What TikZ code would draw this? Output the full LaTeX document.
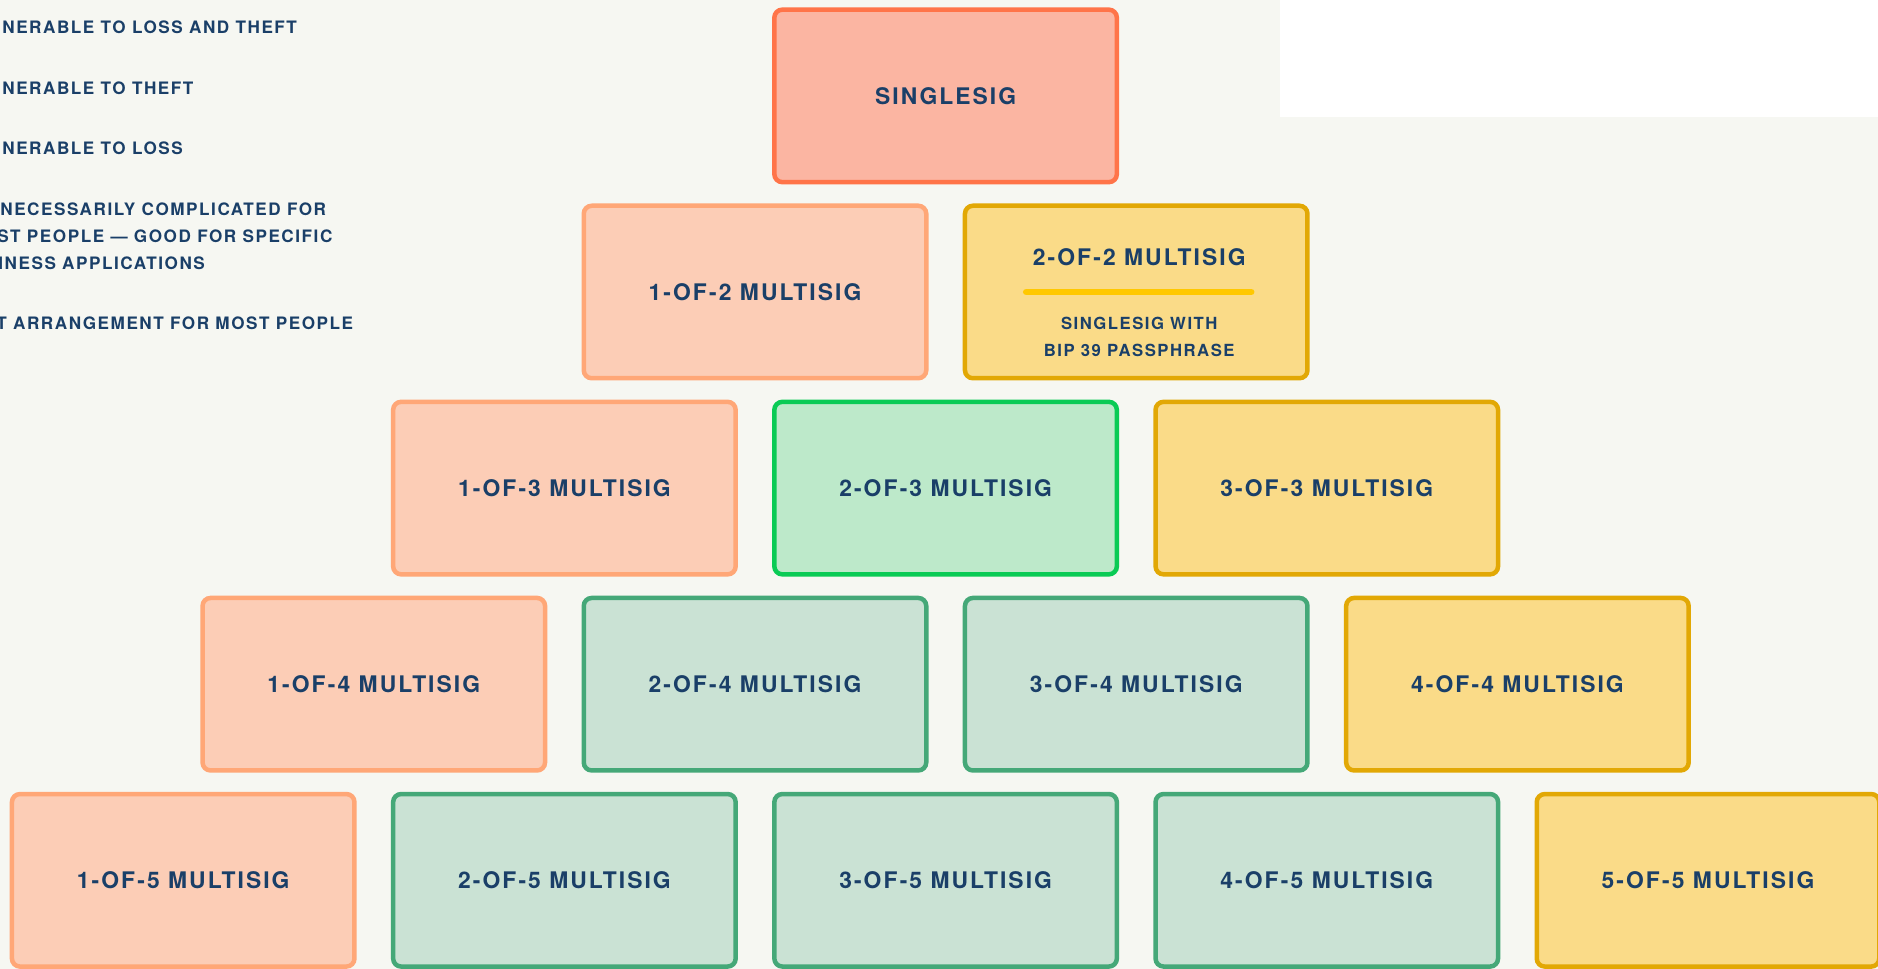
\documentclass[tikz,border=0pt]{standalone}
\usepackage{fontspec}
\usepackage{tikz}

\newfontfamily\sigfont{TeX Gyre Heros}[LetterSpace=9]

\definecolor{paper}{HTML}{F6F7F2}
\definecolor{ink}{HTML}{1A3F68}
\definecolor{redfill}{HTML}{FBB5A2}
\definecolor{redline}{HTML}{FF7449}
\definecolor{peachfill}{HTML}{FCCDB6}
\definecolor{peachline}{HTML}{FFA777}
\definecolor{sandfill}{HTML}{FADB88}
\definecolor{sandline}{HTML}{E2A805}
\definecolor{mintfill}{HTML}{BDE9CA}
\definecolor{mintline}{HTML}{0ACB55}
\definecolor{sagefill}{HTML}{CAE2D4}
\definecolor{sageline}{HTML}{45A878}
\definecolor{passbar}{HTML}{FFC800}

\begin{document}
\begin{tikzpicture}[
	sigbox/.style={rectangle, rounded corners=0.16cm, line width=0.09cm, minimum width=6.85cm, minimum height=3.45cm, text=ink, font={\sigfont\bfseries\fontsize{13}{15}\selectfont}},
	singlebox/.style={sigbox, fill=redfill, draw=redline},
	theftbox/.style={sigbox, fill=peachfill, draw=peachline},
	lossbox/.style={sigbox, fill=sandfill, draw=sandline},
	bestbox/.style={sigbox, fill=mintfill, draw=mintline},
	okbox/.style={sigbox, fill=sagefill, draw=sageline},
	legend/.style={anchor=west, inner sep=0pt, text=ink, font={\sigfont\bfseries\fontsize{9.75}{11}\selectfont}},
	boxtitle/.style={inner sep=0pt, text=ink, font={\sigfont\bfseries\fontsize{13}{15}\selectfont}},
	note/.style={inner sep=0pt, text=ink, align=center, font={\sigfont\bfseries\fontsize{9.5}{15.4}\selectfont}}
]

\fill[paper] (0,0) rectangle (37.56,-19.38);
\fill[white] (25.6,0) rectangle (37.56,-2.34);
\useasboundingbox (0,0) rectangle (37.56,-19.38);

% legend, cut at the left edge
\node[legend] (lg-a) at (0.04,-0.54) {NERABLE TO LOSS AND THEFT};
\node[legend] (lg-b) at (0.04,-1.76) {NERABLE TO THEFT};
\node[legend] (lg-c) at (0.04,-2.96) {NERABLE TO LOSS};
\node[legend] (lg-d1) at (0.0,-4.18) {NECESSARILY COMPLICATED FOR};
\node[legend] (lg-d2) at (-0.06,-4.72) {ST PEOPLE — GOOD FOR SPECIFIC};
\node[legend] (lg-d3) at (-0.04,-5.26) {INESS APPLICATIONS};
\node[legend] (lg-e) at (-0.08,-6.46) {T ARRANGEMENT FOR MOST PEOPLE};

% top two rows
\node[singlebox] (single) at (18.912,-1.918) {SINGLESIG};
\node[theftbox] (ms-1-2) at (15.1,-5.84) {1-OF-2 MULTISIG};
\node[lossbox] (ms-2-2) at (22.724,-5.84) {};

\node[boxtitle] (ms-2-2-title) at ([xshift=0.06cm, yshift=0.7cm]ms-2-2.center) {2-OF-2 MULTISIG};
\coordinate (bar-l) at ([xshift=-2.2cm]ms-2-2.center);
\coordinate (bar-r) at ([xshift=2.3cm]ms-2-2.center);
\draw[passbar, line width=0.13cm, line cap=round] (bar-l) -- (bar-r);
\node[note] (ms-2-2-note) at ([xshift=0.06cm, yshift=-0.89cm]ms-2-2.center) {SINGLESIG WITH\\BIP 39 PASSPHRASE};

% rows of n = 3, 4, 5
\foreach \r in {2, ..., 4} {
	\foreach \c in {0, ..., \r} {
		\pgfmathtruncatemacro\n{\r+1}
		\pgfmathtruncatemacro\k{\c+1}
		\ifnum\c=0 \def\kind{theftbox}\else\ifnum\c=\r \def\kind{lossbox}\else\def\kind{okbox}\fi\fi
		\ifnum\r=2 \ifnum\c=1 \def\kind{bestbox}\fi\fi
		\node[\kind] (ms-\k-\n) at ({3.664+(4-\r)*3.812+\c*7.624}, {-1.918-\r*3.922}) {\k-OF-\n\ MULTISIG};
	}
}

\end{tikzpicture}
\end{document}
